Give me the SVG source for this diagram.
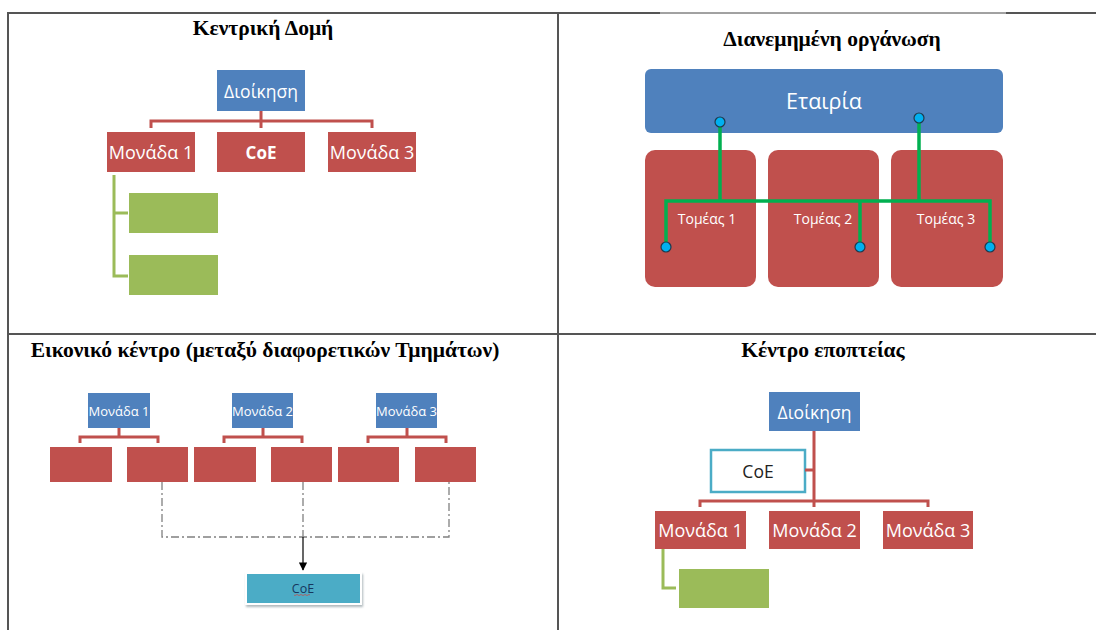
<svg xmlns="http://www.w3.org/2000/svg" width="1096" height="630" viewBox="0 0 1096 630">
  <defs>
    <style>
      .grid { stroke: #555; stroke-width: 2; fill: none; }
      .title { font-family: "Liberation Serif", "Times New Roman", serif; font-weight: bold; font-size: 21.5px; fill: #000; text-anchor: middle; }
      .lbl { font-family: "Open Sans", "Noto Sans", sans-serif; fill: #fff; text-anchor: middle; dominant-baseline: central; }
      .blue { fill: #4F81BD; }
      .red { fill: #C0504D; }
      .green { fill: #9BBB59; }
      .teal { fill: #4BACC6; }
      .redline { stroke: #C0504D; stroke-width: 3; fill: none; }
      .greenline { stroke: #9BBB59; stroke-width: 3; fill: none; }
      .busline { stroke: #00B050; stroke-width: 3.5; fill: none; }
      .dot { fill: #00B0F0; stroke: #1F3A4D; stroke-width: 1.2; }
      .dash { stroke: #808080; stroke-width: 1.3; fill: none; stroke-dasharray: 8 3 2 3; }
    </style>
    <marker id="arrow" viewBox="0 0 10 10" refX="9" refY="5" markerWidth="7" markerHeight="7" orient="auto">
      <path d="M0,0 L10,5 L0,10 z" fill="#000"/>
    </marker>
    <filter id="shadow" x="-10%" y="-20%" width="130%" height="160%">
      <feDropShadow dx="1" dy="2" stdDeviation="1" flood-color="#7a8a90" flood-opacity="0.6"/>
    </filter>
  </defs>

  <!-- table grid -->
  <g id="grid">
    <line class="grid" x1="8" y1="13" x2="660" y2="13"/>
    <line x1="660" y1="13" x2="1006" y2="13" stroke="#444" stroke-width="1"/>
    <line class="grid" x1="1006" y1="13" x2="1096" y2="13"/>
    <line class="grid" x1="8" y1="12" x2="8" y2="630"/>
    <line class="grid" x1="558" y1="13" x2="558" y2="630"/>
    <line class="grid" x1="8" y1="334" x2="1096" y2="334"/>
  </g>

  <!-- titles -->
  <g id="titles">
    <text class="title" x="263" y="35">Κεντρική Δομή</text>
    <text class="title" x="832" y="46">Διανεμημένη οργάνωση</text>
    <text class="title" x="265" y="357">Εικονικό κέντρο (μεταξύ διαφορετικών Τμημάτων)</text>
    <text class="title" x="823" y="357">Κέντρο εποπτείας</text>
  </g>

  <!-- Central structure nodes -->
  <g id="c-admin"><rect class="blue" x="217" y="70" width="88" height="41"/><text class="lbl" x="261" y="90.5" font-size="17.5">Διοίκηση</text></g>
  <g id="c-unit1"><rect class="red" x="107" y="132" width="88" height="40"/><text class="lbl" x="151" y="152" font-size="18">Μονάδα 1</text></g>
  <g id="c-coe"><rect class="red" x="217" y="132" width="88" height="40"/><text class="lbl" x="261" y="152" font-size="17" font-weight="bold">CoE</text></g>
  <g id="c-unit3"><rect class="red" x="328" y="132" width="88" height="40"/><text class="lbl" x="372" y="152" font-size="18">Μονάδα 3</text></g>
  <g id="c-sub1"><rect class="green" x="129" y="193" width="89" height="40"/></g>
  <g id="c-sub2"><rect class="green" x="129" y="255" width="89" height="40"/></g>

  <!-- Distributed organisation nodes -->
  <g id="d-company"><rect class="blue" x="645" y="69" width="358" height="64" rx="6"/><text class="lbl" x="824" y="100" font-size="21.5">Εταιρία</text></g>
  <g id="d-sector1"><rect class="red" x="645" y="150" width="111" height="137" rx="10"/><text class="lbl" x="707" y="218" font-size="14">Τομέας 1</text></g>
  <g id="d-sector2"><rect class="red" x="768" y="150" width="111" height="137" rx="10"/><text class="lbl" x="823" y="218" font-size="14">Τομέας 2</text></g>
  <g id="d-sector3"><rect class="red" x="891" y="150" width="112" height="137" rx="10"/><text class="lbl" x="946" y="218" font-size="14">Τομέας 3</text></g>

  <!-- Virtual centre nodes -->
  <g id="v-unit1"><rect class="blue" x="88" y="393" width="62" height="35"/><text class="lbl" x="119" y="410.5" font-size="13">Μονάδα 1</text></g>
  <g id="v-unit2"><rect class="blue" x="232" y="393" width="61" height="35"/><text class="lbl" x="262.5" y="410.5" font-size="13">Μονάδα 2</text></g>
  <g id="v-unit3"><rect class="blue" x="376" y="393" width="61" height="35"/><text class="lbl" x="406.5" y="410.5" font-size="13">Μονάδα 3</text></g>
  <g id="v-box1"><rect class="red" x="50" y="447" width="62" height="35"/></g>
  <g id="v-box2"><rect class="red" x="127" y="447" width="61" height="35"/></g>
  <g id="v-box3"><rect class="red" x="194" y="447" width="62" height="35"/></g>
  <g id="v-box4"><rect class="red" x="271" y="447" width="61" height="35"/></g>
  <g id="v-box5"><rect class="red" x="338" y="447" width="61" height="35"/></g>
  <g id="v-box6"><rect class="red" x="415" y="447" width="61" height="35"/></g>
  <g id="v-coe">
    <rect x="245" y="572" width="117" height="33" fill="#fff" filter="url(#shadow)"/>
    <rect class="teal" x="247" y="574" width="113" height="29"/>
    <text class="lbl" x="303" y="588" font-size="12.5" style="fill:#17375E">CoE</text>
    <path d="M294,595 q1,1 2,0 t2,0 t2,0 t2,0 t2,0 t2,0 t2,0 t2,0" stroke="#C0504D" stroke-width="0.8" fill="none"/>
  </g>

  <!-- Supervision centre nodes -->
  <g id="s-admin"><rect class="blue" x="769" y="392" width="91" height="39"/><text class="lbl" x="814.5" y="411.5" font-size="17.5">Διοίκηση</text></g>
  <g id="s-coe"><rect x="711" y="450" width="94" height="42" fill="#fff" stroke="#4BACC6" stroke-width="2.5"/><text class="lbl" x="758" y="471" font-size="17.5" style="fill:#222">CoE</text></g>
  <g id="s-unit1"><rect class="red" x="655" y="511" width="91" height="38"/><text class="lbl" x="700.5" y="530" font-size="18">Μονάδα 1</text></g>
  <g id="s-unit2"><rect class="red" x="769" y="511" width="91" height="38"/><text class="lbl" x="814.5" y="530" font-size="18">Μονάδα 2</text></g>
  <g id="s-unit3"><rect class="red" x="883" y="511" width="90" height="38"/><text class="lbl" x="928" y="530" font-size="18">Μονάδα 3</text></g>
  <g id="s-sub1"><rect class="green" x="679" y="569" width="90" height="39"/></g>

  <!-- connectors (drawn last so the bus runs over the sector panels) -->
  <g id="connectors">
    <!-- central structure -->
    <path class="redline" d="M261,111 V128 M151,128 V121 H372 V128"/>
    <path class="greenline" d="M114,175 V276 H128 M114,213 H128"/>

    <!-- distributed organisation -->
    <path class="busline" d="M720,122 V201 M919,118 V201 M666,247 V201 H990 V247 M860,201 V247"/>
    <circle class="dot" cx="720" cy="122" r="5"/>
    <circle class="dot" cx="919" cy="118" r="5"/>
    <circle class="dot" cx="666" cy="247" r="5"/>
    <circle class="dot" cx="860" cy="247" r="5"/>
    <circle class="dot" cx="990" cy="247" r="5"/>

    <!-- virtual centre -->
    <path class="redline" d="M119,428 V437 M80,443 V437 H158 V443"/>
    <path class="redline" d="M263,428 V437 M224,443 V437 H302 V443"/>
    <path class="redline" d="M407,428 V437 M368,443 V437 H446 V443"/>
    <path class="dash" d="M162,482 V537 H449 V482 M303,482 V537"/>
    <line x1="303" y1="537" x2="303" y2="570" stroke="#000" stroke-width="1.2" marker-end="url(#arrow)"/>

    <!-- supervision centre -->
    <path class="redline" d="M814,431 V507 M805,470 H814 M700,507 V501 H928 V507"/>
    <path class="greenline" d="M663,549 V588 H676"/>
  </g>
</svg>
